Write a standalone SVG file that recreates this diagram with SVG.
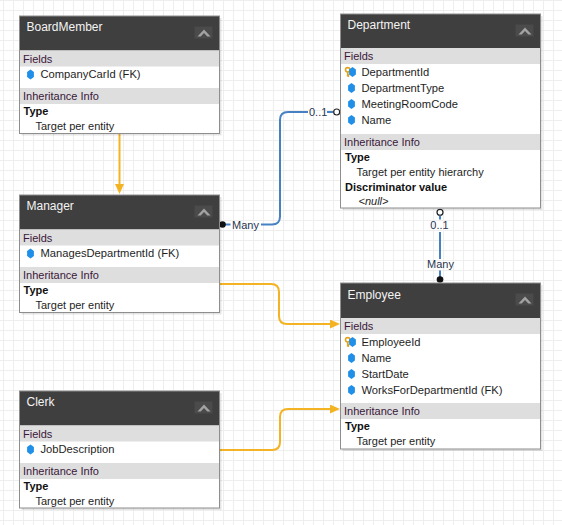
<svg xmlns="http://www.w3.org/2000/svg" width="562" height="525" viewBox="0 0 562 525">
<style>
text{font-family:"Liberation Sans",Arial,sans-serif;}
.title{font-size:12px;fill:#f4f4f4;}
.sec{font-size:11px;fill:#3a173a;}
.fld{font-size:11.2px;fill:#1e1e1e;}
.b{font-size:11px;font-weight:bold;fill:#111;}
.v{font-size:11px;fill:#1e1e1e;}
.i{font-size:11px;font-style:italic;fill:#1e1e1e;}
.lbl{font-size:11px;fill:#2a3550;}
.box{fill:#fff;}
.border{fill:none;stroke:#8e8e8e;stroke-width:1;}
.hdr{fill:#3f3f3f;}
.bar{fill:#dedede;}
.shd{fill:#000;opacity:0.1;}
.hex{fill:#1f8fe8;}
.key{fill:none;stroke:#e3a21a;stroke-width:1.6;}
.inh{fill:none;stroke:#f4b323;stroke-width:2;}
.asc{fill:none;stroke:#4682c3;stroke-width:2;}
</style>
<defs>
<pattern id="grid" width="10" height="10" patternUnits="userSpaceOnUse" x="3" y="0">
<path d="M0,0.5H10M0.5,0V10" stroke="#eeeeee" stroke-width="1" fill="none"/>
</pattern>
<marker id="arr" markerUnits="userSpaceOnUse" markerWidth="12" markerHeight="12" refX="0" refY="4.5" orient="auto" viewBox="0 0 12 12">
<path d="M0,0L10,4.5L0,9z" fill="#f4b323"/>
</marker>
<path id="hx" d="M0,-5L3.4,-2.5V2.5L0,5L-3.4,2.5V-2.5z"/>
<g id="colicon">
<rect x="175" y="10.5" width="18" height="12" fill="#4b4b4b"/>
<path d="M178,20.5L184.5,13.5L191,20.5H187.8L184.5,17L181.2,20.5z" fill="#a3a3a3"/>
</g>
<g id="keyicon">
<circle cx="-3.8" cy="-2.2" r="2.2" class="key"/>
<path d="M-3.8,0V4.5M-3.8,2.6H-2.2M-3.8,4.3H-2.4" class="key"/>
<use href="#hx" x="1" y="0" class="hex"/>
</g>
</defs>
<rect width="562" height="525" fill="#fff"/>
<rect width="562" height="525" fill="url(#grid)"/>

<g id="connectors">
<path class="inh" d="M119.5,134V184" marker-end="url(#arr)"/>
<path class="inh" d="M220,284H271Q279,284 279,292V316Q279,324 287,324H330" marker-end="url(#arr)"/>
<path class="inh" d="M220,450H272Q280,450 280,442V417Q280,409 288,409H330" marker-end="url(#arr)"/>
<path class="asc" d="M222,224.5H230.5"/>
<text class="lbl" x="232" y="228.5">Many</text>
<path class="asc" d="M261,224.5H272Q280,224.5 280,216.5V120Q280,112 288,112H308"/>
<text class="lbl" x="309" y="116">0..1</text>
<path class="asc" d="M327,112H333.5"/>
<circle cx="336.7" cy="112" r="3" fill="#fff" stroke="#222" stroke-width="1.2"/>
<circle cx="222.5" cy="224.5" r="3.3" fill="#111"/>
<circle cx="440" cy="212.3" r="3" fill="#fff" stroke="#222" stroke-width="1.2"/>
<path class="asc" d="M440,215.5V219.5"/>
<text class="lbl" x="439.5" y="229" text-anchor="middle">0..1</text>
<path class="asc" d="M440,232V259"/>
<text class="lbl" x="440.5" y="268" text-anchor="middle">Many</text>
<path class="asc" d="M440,270.5V277"/>
<circle cx="440" cy="279.5" r="3.3" fill="#111"/>
</g>

<g id="BoardMember" transform="translate(19.5,16)">
<rect class="shd" x="2" y="2" width="200" height="117.5"/>
<rect class="box" width="200" height="117.5"/>
<rect class="hdr" width="200" height="34.5"/>
<text class="title" x="7" y="15">BoardMember</text>
<use href="#colicon"/>
<rect class="bar" y="34.5" width="200" height="16"/>
<text class="sec" x="3.5" y="46.5">Fields</text>
<use href="#hx" x="11" y="58.5" class="hex"/>
<text class="fld" x="21" y="62">CompanyCarId (FK)</text>
<rect class="bar" y="72" width="200" height="16"/>
<text class="sec" x="3.5" y="84">Inheritance Info</text>
<text class="b" x="4" y="99">Type</text>
<text class="v" x="16" y="114">Target per entity</text>
<rect class="border" width="200" height="117.5"/>
</g>

<g id="Manager" transform="translate(19.5,195)">
<rect class="shd" x="2" y="2" width="200" height="117.5"/>
<rect class="box" width="200" height="117.5"/>
<rect class="hdr" width="200" height="34.5"/>
<text class="title" x="7" y="15">Manager</text>
<use href="#colicon"/>
<rect class="bar" y="34.5" width="200" height="16"/>
<text class="sec" x="3.5" y="46.5">Fields</text>
<use href="#hx" x="11" y="58.5" class="hex"/>
<text class="fld" x="21" y="62">ManagesDepartmentId (FK)</text>
<rect class="bar" y="72" width="200" height="16"/>
<text class="sec" x="3.5" y="84">Inheritance Info</text>
<text class="b" x="4" y="99">Type</text>
<text class="v" x="16" y="114">Target per entity</text>
<rect class="border" width="200" height="117.5"/>
</g>

<g id="Clerk" transform="translate(19.5,391)">
<rect class="shd" x="2" y="2" width="200" height="117"/>
<rect class="box" width="200" height="117"/>
<rect class="hdr" width="200" height="34.5"/>
<text class="title" x="7" y="15">Clerk</text>
<use href="#colicon"/>
<rect class="bar" y="34.5" width="200" height="16"/>
<text class="sec" x="3.5" y="46.5">Fields</text>
<use href="#hx" x="11" y="58.5" class="hex"/>
<text class="fld" x="21" y="62">JobDescription</text>
<rect class="bar" y="72" width="200" height="16"/>
<text class="sec" x="3.5" y="84">Inheritance Info</text>
<text class="b" x="4" y="99">Type</text>
<text class="v" x="16" y="114">Target per entity</text>
<rect class="border" width="200" height="117"/>
</g>

<g id="Department" transform="translate(340.5,14)">
<rect class="shd" x="2" y="2" width="200" height="194"/>
<rect class="box" width="200" height="194"/>
<rect class="hdr" width="200" height="34"/>
<text class="title" x="7" y="15.3">Department</text>
<use href="#colicon"/>
<rect class="bar" y="34" width="200" height="16"/>
<text class="sec" x="3.5" y="46">Fields</text>
<use href="#keyicon" x="11" y="58"/>
<text class="fld" x="21" y="61.5">DepartmentId</text>
<use href="#hx" x="11" y="74" class="hex"/>
<text class="fld" x="21" y="77.5">DepartmentType</text>
<use href="#hx" x="11" y="90" class="hex"/>
<text class="fld" x="21" y="93.5">MeetingRoomCode</text>
<use href="#hx" x="11" y="106" class="hex"/>
<text class="fld" x="21" y="109.5">Name</text>
<rect class="bar" y="120" width="200" height="16"/>
<text class="sec" x="3.5" y="132">Inheritance Info</text>
<text class="b" x="4.5" y="147">Type</text>
<text class="v" x="16" y="162">Target per entity hierarchy</text>
<text class="b" x="4.5" y="176.5">Discriminator value</text>
<text class="i" x="18" y="191">&lt;null&gt;</text>
<rect class="border" width="200" height="194"/>
</g>

<g id="Employee" transform="translate(340.5,283)">
<rect class="shd" x="2" y="2" width="200" height="166"/>
<rect class="box" width="200" height="166"/>
<rect class="hdr" width="200" height="35"/>
<text class="title" x="7" y="16">Employee</text>
<use href="#colicon"/>
<rect class="bar" y="35" width="200" height="16"/>
<text class="sec" x="3.5" y="47">Fields</text>
<use href="#keyicon" x="11" y="59"/>
<text class="fld" x="21" y="62.5">EmployeeId</text>
<use href="#hx" x="11" y="75" class="hex"/>
<text class="fld" x="21" y="78.5">Name</text>
<use href="#hx" x="11" y="91" class="hex"/>
<text class="fld" x="21" y="94.5">StartDate</text>
<use href="#hx" x="11" y="107" class="hex"/>
<text class="fld" x="21" y="110.5">WorksForDepartmentId (FK)</text>
<rect class="bar" y="120" width="200" height="16"/>
<text class="sec" x="3.5" y="132">Inheritance Info</text>
<text class="b" x="4.5" y="147">Type</text>
<text class="v" x="16" y="162">Target per entity</text>
<rect class="border" width="200" height="166"/>
</g>
</svg>
